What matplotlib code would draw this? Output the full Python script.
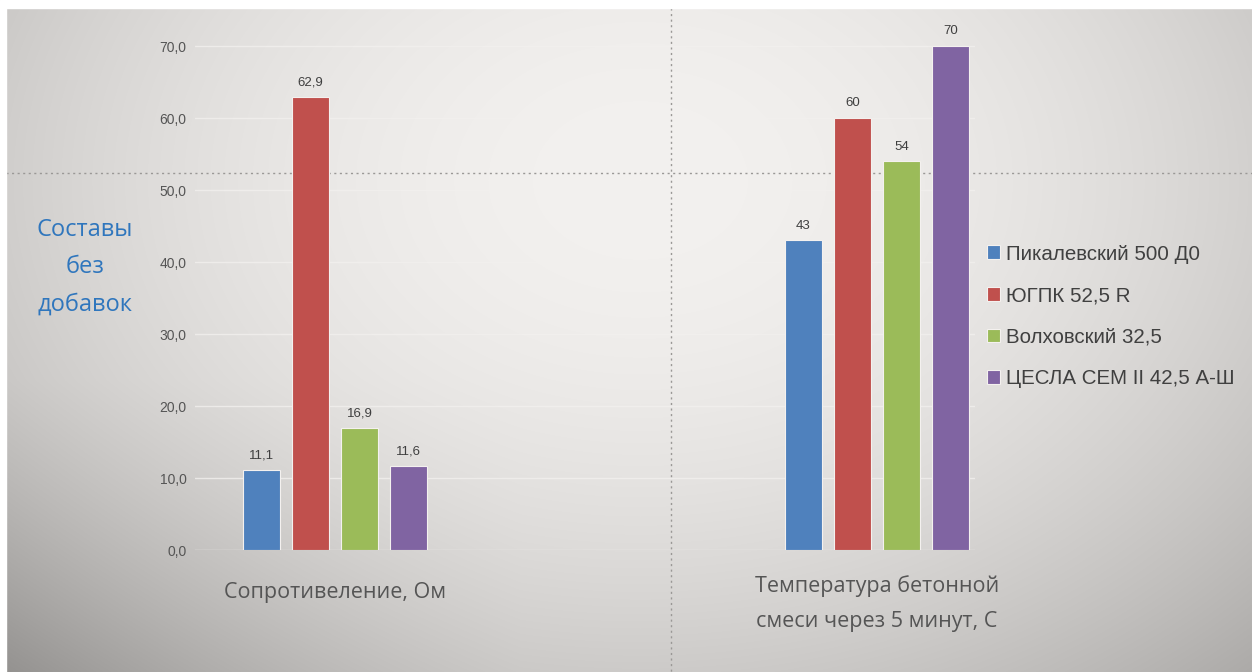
import matplotlib
matplotlib.use("Agg")
import matplotlib.pyplot as plt
import numpy as np
from matplotlib.lines import Line2D
from matplotlib.patches import Rectangle

# data
categories = ["Сопротивеление, Ом", "Температура бетонной\nсмеси через 5 минут, С"]
series = ["Пикалевский 500 Д0", "ЮГПК 52,5 R", "Волховский 32,5", "ЦЕСЛА CEM II 42,5 А-Ш"]
values = [
    [11.1, 43],
    [62.9, 60],
    [16.9, 54],
    [11.6, 70],
]
value_labels = [
    ["11,1", "43"],
    ["62,9", "60"],
    ["16,9", "54"],
    ["11,6", "70"],
]
yticks = [0, 10, 20, 30, 40, 50, 60, 70]
ytick_labels = ["0,0", "10,0", "20,0", "30,0", "40,0", "50,0", "60,0", "70,0"]
colors = ["#4F81BD", "#C0504D", "#9BBB59", "#8064A2"]

narrow = ["Liberation Sans", "DejaVu Sans"]

W, H = 1252, 672
fig = plt.figure(figsize=(W / 100, H / 100), dpi=100)
fig.patch.set_facecolor("#d0cecb")

# background: soft concrete-like vignette
bg = fig.add_axes([0, 0, 1, 1], zorder=-5)
yy, xx = np.mgrid[0:H, 0:W]
d2 = ((xx - 640) / 760.0) ** 2 + ((yy - 180) / 560.0) ** 2
shade = np.clip(243 - 50 * d2, 150, 243)
shade = shade - 22 * np.clip((yy - 380) / 292.0, 0, 1) * np.clip((520 - xx) / 520.0, 0, 1)
img = np.dstack([shade, shade - 2, shade - 4]) / 255.0
bg.imshow(np.clip(img, 0, 1), extent=[0, W, H, 0], aspect="auto")
bg.set_xlim(0, W)
bg.set_ylim(H, 0)
bg.axis("off")
# white page margins
bg.add_patch(Rectangle((0, 0), W, 8, color="white", zorder=3))
bg.add_patch(Rectangle((0, 0), 6, H, color="white", zorder=3))
# decorative dotted crosshair
bg.add_line(Line2D([6, W], [173, 173], color="#9a9896", lw=1.0, ls=(0, (1.5, 2.5)), zorder=2))
bg.add_line(Line2D([671, 671], [8, H], color="#9a9896", lw=1.0, ls=(0, (1.5, 2.5)), zorder=2))

# main chart axes
left, right, bottom_px = 195, 975, 550
px_per_unit = 7.2
ymax = 72
ax = fig.add_axes([left / W, (H - bottom_px) / H, (right - left) / W, ymax * px_per_unit / H])
ax.set_facecolor("none")
ax.set_xlim(-0.2583, 1.1808)
ax.set_ylim(0, ymax)

x = np.arange(len(categories))
bar_w = 0.0683
step = 0.0904
for i, (name, vals) in enumerate(zip(series, values)):
    pos = x + (i - 1.5) * step
    bars = ax.bar(pos, vals, width=bar_w, color=colors[i], edgecolor="#f4f1ef",
                  linewidth=0.8, label=name, zorder=3)
    for b, lab in zip(bars, value_labels[i]):
        ax.text(b.get_x() + b.get_width() / 2, b.get_height() + 1.2, lab,
                ha="center", va="bottom", fontsize=9.5, color="#3f3f3f",
                family=narrow, zorder=4)

ax.set_yticks(yticks)
ax.set_yticklabels(ytick_labels, fontsize=10, color="#555555", family=narrow)
ax.tick_params(axis="y", length=0, pad=6)
ax.set_xticks([])
for s in ax.spines.values():
    s.set_visible(False)
ax.grid(axis="y", color="#f2f0ee", lw=1.0, alpha=0.8, zorder=1)
ax.set_axisbelow(True)

# category labels
ax.text(0, -5.9, categories[0], ha="center", va="center", fontsize=15.5,
        color="#555555", family="Open Sans")
ax.text(1, -7.4, categories[1], ha="center", va="center", fontsize=15.5,
        color="#555555", family="Open Sans", linespacing=1.85)

# side title
fig.text(85 / W, 1 - 267 / H, "Составы\nбез\nдобавок", ha="center", va="center",
         fontsize=17, color="#2f76bd", family="Open Sans", linespacing=1.75)

# legend
leg = fig.legend(loc="upper left", bbox_to_anchor=(968 / W, 1 - 226 / H), frameon=False,
                 handlelength=0.65, handleheight=0.65, handletextpad=0.3,
                 labelspacing=1.1, prop={"family": narrow, "size": 14.8})
for t in leg.get_texts():
    t.set_color("#404040")

fig.savefig("out.png", dpi=100)
